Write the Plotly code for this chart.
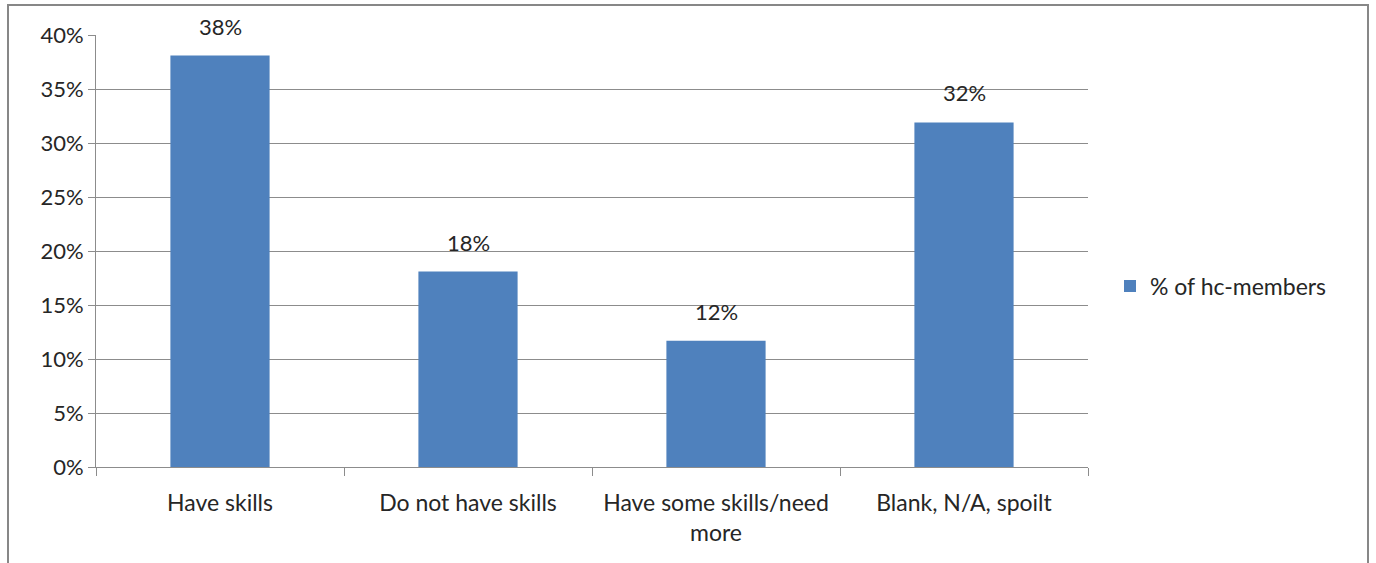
import plotly.graph_objects as go

categories = ["Have skills", "Do not have skills", "Have some skills/need<br>more", "Blank, N/A, spoilt"]
values = [38.1, 18.1, 11.7, 31.9]
labels = ["38%", "18%", "12%", "32%"]
series_name = "% of hc-members"
y_ticks = [0, 5, 10, 15, 20, 25, 30, 35, 40]
y_tick_labels = [f"{v}%" for v in y_ticks]

FONT = "Lato"
FS = 22
TXT = "#262626"
GRID = "#8c8c8c"

fig = go.Figure()
fig.add_trace(go.Bar(
    x=categories, y=values, name=series_name,
    marker=dict(color="#4F81BD", line=dict(width=0)),
    showlegend=True,
))

for c, v, t in zip(categories, values, labels):
    fig.add_annotation(x=c, y=v, text=t, showarrow=False, yanchor="bottom",
                       yshift=14, font=dict(family=FONT, size=FS, color=TXT))

fig.update_layout(
    width=1376, height=563,
    margin=dict(l=96, r=288, t=35, b=96),
    paper_bgcolor="white", plot_bgcolor="white",
    bargap=0.6,
    font=dict(family=FONT, size=FS, color=TXT),
    showlegend=True,
    legend=dict(x=(1110 - 96) / 992, y=0.419, xanchor="left", yanchor="middle",
                font=dict(family=FONT, size=23, color=TXT),
                itemwidth=30, bgcolor="rgba(0,0,0,0)"),
    xaxis=dict(
        showline=True, linecolor=GRID, linewidth=1,
        ticks="outside", tickson="boundaries", ticklen=8, tickcolor=GRID,
        ticklabelstandoff=15,
        showgrid=False, tickfont=dict(family=FONT, size=23, color=TXT),
    ),
    yaxis=dict(
        range=[0, 40], tickvals=y_ticks, ticktext=y_tick_labels,
        showline=True, linecolor=GRID, linewidth=1,
        ticks="outside", ticklen=7, tickcolor=GRID,
        showgrid=True, gridcolor=GRID, gridwidth=1, zeroline=False,
        tickfont=dict(family=FONT, size=FS, color=TXT),
    ),
    shapes=[dict(type="rect", xref="paper", yref="paper",
                 x0=(8 - 96) / 992, x1=(1368 - 96) / 992,
                 y0=-0.5, y1=(467 - 5) / 432,
                 line=dict(color="#878787", width=2), fillcolor="rgba(0,0,0,0)",
                 layer="below")],
)

fig.write_html("out.html")
